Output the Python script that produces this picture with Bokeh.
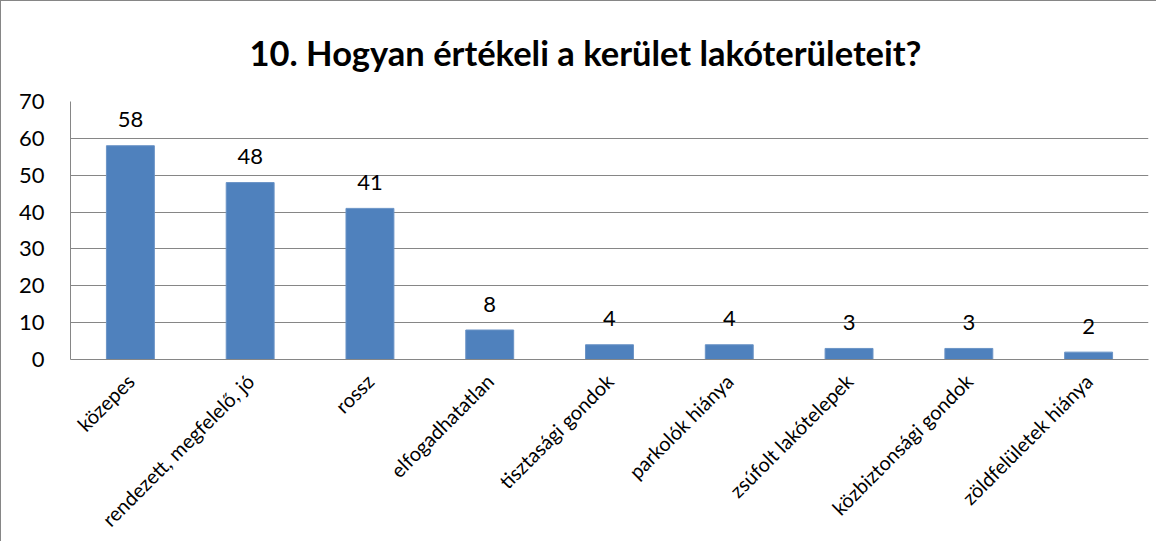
import math
from bokeh.plotting import figure
from bokeh.models import Range1d, FixedTicker, ColumnDataSource
from bokeh.core.properties import value
from bokeh.embed import file_html
from bokeh.resources import INLINE

title_text = "10. Hogyan értékeli a kerület lakóterületeit?"
categories = ["közepes", "rendezett, megfelelő, jó", "rossz", "elfogadhatatlan",
              "tisztasági gondok", "parkolók hiánya", "zsúfolt lakótelepek",
              "közbiztonsági gondok", "zöldfelületek hiánya"]
counts = [58, 48, 41, 8, 4, 4, 3, 3, 2]
y_ticks = [0, 10, 20, 30, 40, 50, 60, 70]

FONT = "Lato"

src = ColumnDataSource(dict(cat=categories, val=counts, lab=[str(v) for v in counts]))

p = figure(x_range=categories, y_range=Range1d(0, 70), width=1156, height=541,
           output_backend="svg", toolbar_location=None,
           min_border_left=69, min_border_top=99, min_border_right=9, min_border_bottom=183)
p.styles = {"border-left": "1px solid #868686", "border-top": "1px solid #868686"}

p.title.text = title_text
p.title.align = "left"
p.title.text_font = FONT
p.title.text_font_size = "34.5px"
p.title.text_font_style = "bold"
p.title.text_color = "black"
p.title.offset = 179
p.title.standoff = 57

p.vbar(x="cat", top="val", width=0.4, source=src, fill_color="#4F81BD", line_color="#6a93c6")
p.text(x="cat", y="val", text="lab", source=src, text_align="center", text_baseline="alphabetic",
       y_offset=-26, text_font=value(FONT), text_font_size="22px", text_color="black")

p.outline_line_color = None
p.xgrid.grid_line_color = None
p.ygrid.grid_line_color = "#868686"
p.ygrid.ticker = FixedTicker(ticks=y_ticks)

p.yaxis.ticker = FixedTicker(ticks=y_ticks)
p.yaxis.axis_line_color = "#868686"
p.yaxis.major_tick_line_color = None
p.yaxis.minor_tick_line_color = None
p.yaxis.major_label_text_font = FONT
p.yaxis.major_label_text_font_size = "22px"
p.yaxis.major_label_text_color = "black"
p.yaxis.major_label_standoff = 20

p.xaxis.axis_line_color = "#868686"
p.xaxis.major_tick_line_color = None
p.xaxis.minor_tick_line_color = None
p.xaxis.major_label_orientation = math.pi / 4
p.xaxis.major_label_text_font = FONT
p.xaxis.major_label_text_font_size = "20px"
p.xaxis.major_label_text_color = "black"
p.xaxis.major_label_standoff = 12

open("out.html", "w").write(file_html(p, INLINE))
